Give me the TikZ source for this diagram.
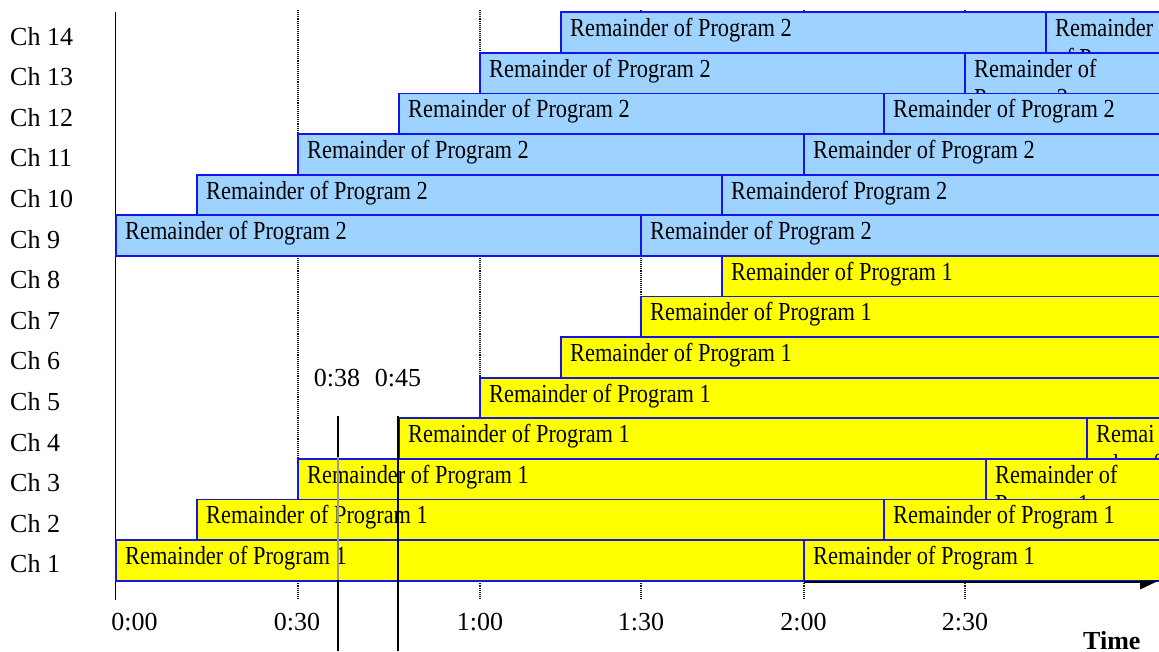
\documentclass[tikz,border=0pt]{standalone}
\usepackage{fontspec}
\setmainfont{Liberation Serif}
\newfontfamily\barfont[FakeStretch=0.86]{Liberation Serif}
\definecolor{barblue}{RGB}{20,20,235}
\definecolor{progblue}{RGB}{158,210,255}
\definecolor{progyellow}{RGB}{255,255,0}
\tikzset{
  barone/.style={fill=progyellow},
  bartwo/.style={fill=progblue},
  barline/.style={draw=barblue, line width=1.8pt},
  bartext/.style={anchor=base west, inner sep=0pt, font=\barfont\fontsize{26}{28}\selectfont},
  chlabel/.style={anchor=base west, inner sep=0pt, font=\fontsize{26}{28}\selectfont},
  ticklabel/.style={anchor=base, inner sep=0pt, font=\fontsize{26}{28}\selectfont},
  gridline/.style={densely dotted, line width=1.1pt, black!90},
}
% #1 fill style, #2 x start, #3 x end, #4 row (channel), #5 first line, #6 second (cut) line
\newcommand{\tvbar}[6]{%
  \pgfmathsetmacro\bt{540-(#4-1)*40.6}%
  \pgfmathsetmacro\bb{\bt+40.6}%
  \fill[#1] (#2,\bt) rectangle (#3,\bb);
  \begin{scope}
    \clip (#2,\bt) rectangle (#3,\bb);
    \node[bartext] (r#4x#2a) at (#2+9,\bt+24.5) {#5};
    \if\relax\detokenize{#6}\relax\else
      \node[bartext] (r#4x#2b) at (#2+9,\bt+54) {#6};
    \fi
  \end{scope}
  \draw[barline] (#2,\bt) rectangle (#3,\bb);
}
\begin{document}
\begin{tikzpicture}[x=1pt,y=-1pt]
\useasboundingbox (0,0) rectangle (1159,651);
\clip (0,0) rectangle (1159,651);

% dotted time grid
\foreach \gx in {298,480,641,804,965}{
  \draw[gridline] (\gx,10) -- (\gx,600);
}
% left axis
\draw[line width=1.5pt] (115.5,12) -- (115.5,600);

% Program 1 (yellow)
\tvbar{barone}{116}{804}{1}{Remainder of Program 1}{}
\tvbar{barone}{804}{1180}{1}{Remainder of Program 1}{}
\tvbar{barone}{197}{884}{2}{Remainder of Program 1}{}
\tvbar{barone}{884}{1180}{2}{Remainder of Program 1}{}
\tvbar{barone}{298}{986}{3}{Remainder of Program 1}{}
\tvbar{barone}{986}{1180}{3}{Remainder of}{Program 1}
\tvbar{barone}{399}{1087}{4}{Remainder of Program 1}{}
\tvbar{barone}{1087}{1180}{4}{Remai}{nder of}
\tvbar{barone}{480}{1180}{5}{Remainder of Program 1}{}
\tvbar{barone}{561}{1180}{6}{Remainder of Program 1}{}
\tvbar{barone}{641}{1180}{7}{Remainder of Program 1}{}
\tvbar{barone}{722}{1180}{8}{Remainder of Program 1}{}
% Program 2 (blue)
\tvbar{bartwo}{116}{641}{9}{Remainder of Program 2}{}
\tvbar{bartwo}{641}{1180}{9}{Remainder of Program 2}{}
\tvbar{bartwo}{197}{722}{10}{Remainder of Program 2}{}
\tvbar{bartwo}{722}{1180}{10}{Remainderof Program 2}{}
\tvbar{bartwo}{298}{804}{11}{Remainder of Program 2}{}
\tvbar{bartwo}{804}{1180}{11}{Remainder of Program 2}{}
\tvbar{bartwo}{399}{884}{12}{Remainder of Program 2}{}
\tvbar{bartwo}{884}{1180}{12}{Remainder of Program 2}{}
\tvbar{bartwo}{480}{965}{13}{Remainder of Program 2}{}
\tvbar{bartwo}{965}{1180}{13}{Remainder of}{Program 2}
\tvbar{bartwo}{561}{1046}{14}{Remainder of Program 2}{}
\tvbar{bartwo}{1046}{1180}{14}{Remainder}{of Program 2}

% channel labels
\foreach \ch in {1,...,14}{
  \pgfmathsetmacro\cy{540-(\ch-1)*40.6+32.8}
  \node[chlabel] (ch\ch) at (10,\cy) {Ch \ch};
}

% time axis (bottom right) with arrow head
\coordinate (axs) at (804,582);
\coordinate (axe) at (1141,582);
\draw[line width=1.8pt] (axs) -- (axe);
\fill (1140,580.5) -- (1159,580.5) -- (1140,589.5) -- cycle;

% tick labels
\node[ticklabel] (t000) at (134.5,630.7) {0:00};
\node[ticklabel] (t030) at (297,630.7) {0:30};
\node[ticklabel] (t100) at (480,630.7) {1:00};
\node[ticklabel] (t130) at (641,630.7) {1:30};
\node[ticklabel] (t200) at (803.5,630.7) {2:00};
\node[ticklabel] (t230) at (965,630.7) {2:30};
\node[anchor=base west, inner sep=0pt, font=\bfseries\fontsize{26}{28}\selectfont] (time) at (1083,649) {Time};

% 0:38 and 0:45 markers
\node[ticklabel] (m038) at (337,386.7) {0:38};
\node[ticklabel] (m045) at (398,386.7) {0:45};
\coordinate (m038top) at (338,416);
\coordinate (m038bot) at (338,651);
\coordinate (m045top) at (398,416);
\coordinate (m045bot) at (398,651);
\draw[line width=1.3pt] (m038top) -- (m038bot);
\draw[line width=1.3pt, black!40] (338,457) -- (338,579.5);
\draw[line width=1.5pt] (m045top) -- (m045bot);
\end{tikzpicture}
\end{document}
